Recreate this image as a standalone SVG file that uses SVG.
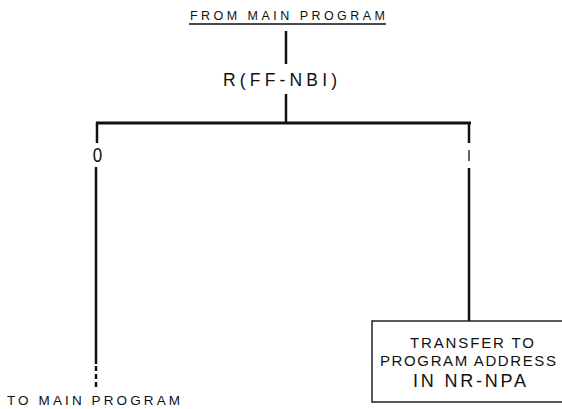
<svg xmlns="http://www.w3.org/2000/svg" width="562" height="409" viewBox="0 0 562 409">
<style>
text { font-family: "Liberation Sans", Arial, sans-serif; fill: #111; }
.ln { stroke: #111; fill: none; stroke-linecap: butt; }
.edge { stroke: #222; stroke-width: 1.5; fill: none; }
</style>
<rect width="562" height="409" fill="#fff"/>
<g id="connectors">
  <line class="ln" x1="286" y1="31" x2="286" y2="64" stroke-width="2.5"/>
  <line class="ln" x1="286" y1="94" x2="286" y2="124" stroke-width="2.5"/>
  <line class="ln" x1="96" y1="123" x2="471" y2="123" stroke-width="3"/>
  <line class="ln" x1="97" y1="122" x2="97" y2="143" stroke-width="2.5"/>
  <line class="ln" x1="96" y1="167" x2="96" y2="364" stroke-width="2.5"/>
  <line class="ln" x1="96" y1="366" x2="96" y2="389" stroke-width="2.5" stroke-dasharray="5,3"/>
  <line class="ln" x1="469" y1="122" x2="469" y2="143" stroke-width="2.5"/>
  <line class="ln" x1="469" y1="168" x2="469" y2="321" stroke-width="2.5"/>
</g>
<g id="start">
  <text x="190" y="20" font-size="12.5" textLength="195" lengthAdjust="spacing">FROM MAIN PROGRAM</text>
  <line class="ln" x1="189" y1="24" x2="386" y2="24" stroke-width="1.3"/>
</g>
<g id="decision">
  <text x="223" y="86" font-size="17.5" textLength="114" lengthAdjust="spacing">R(FF-NBI)</text>
</g>
<g id="label-0">
  <text x="0" y="0" font-size="20" text-anchor="middle" transform="translate(97.5 162) scale(0.85 1)">0</text>
</g>
<g id="label-1">
  <line class="ln" x1="469" y1="150" x2="469" y2="161" stroke-width="1.3"/>
</g>
<g id="transfer">
  <line class="edge" x1="372" y1="321" x2="600" y2="321"/>
  <line class="edge" x1="372" y1="320.25" x2="372" y2="402.75"/>
  <line class="edge" x1="372" y1="402" x2="600" y2="402"/>
  <text x="410" y="348" font-size="15" textLength="124" lengthAdjust="spacing">TRANSFER TO</text>
  <text x="380" y="366" font-size="15" textLength="176" lengthAdjust="spacing">PROGRAM ADDRESS</text>
  <text x="413" y="387" font-size="18" textLength="113" lengthAdjust="spacing">IN NR-NPA</text>
</g>
<g id="end">
  <text x="7" y="405" font-size="13.5" textLength="173" lengthAdjust="spacing">TO MAIN PROGRAM</text>
</g>
</svg>
